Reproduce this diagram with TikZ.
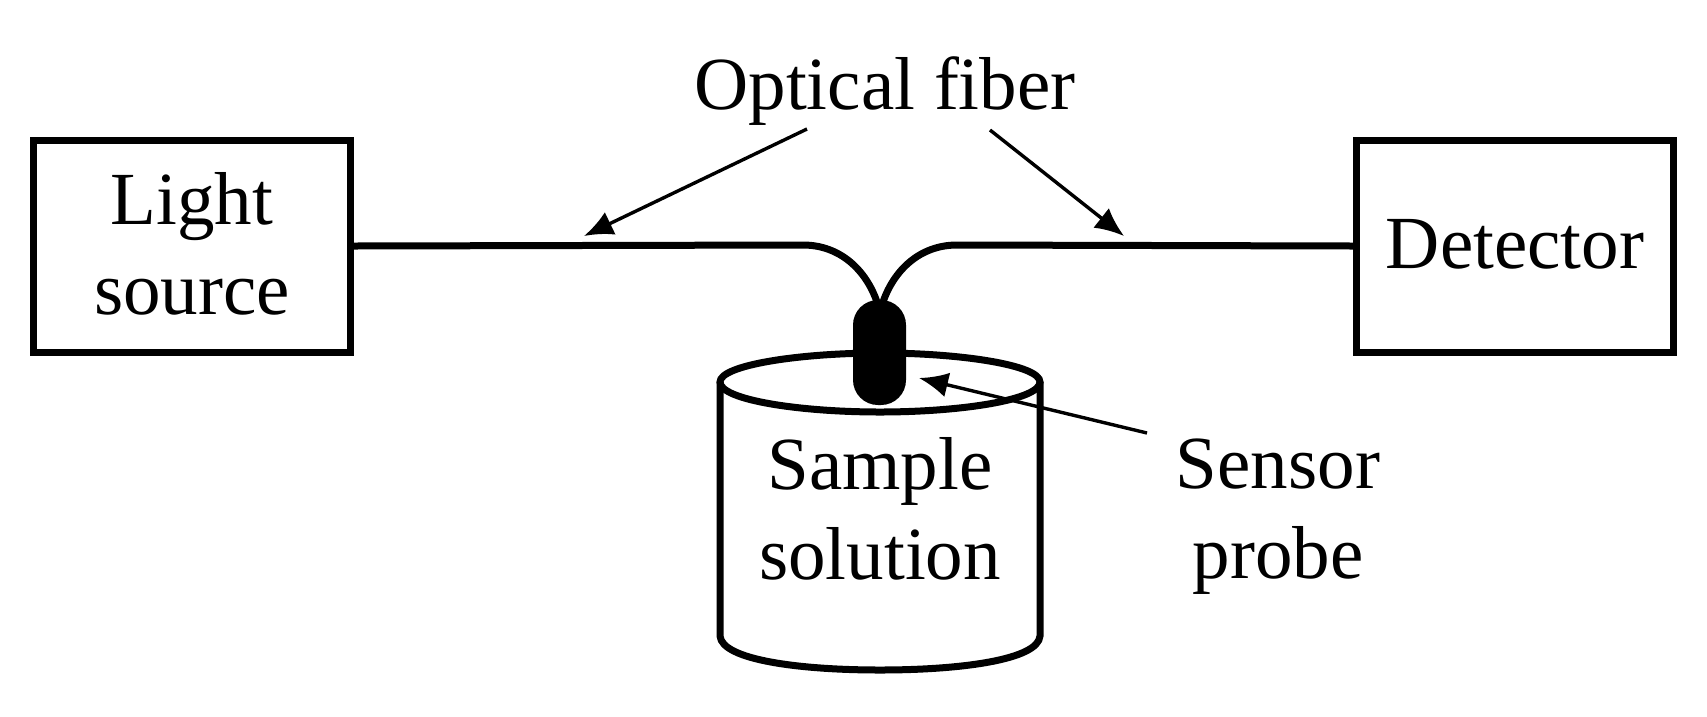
\documentclass[tikz,border=0pt]{standalone}
\usepackage{fontspec}
\setmainfont{Liberation Serif}
\usetikzlibrary{arrows.meta}
\tikzset{
 box/.style={draw,line width=7pt,minimum width=317pt,minimum height=212pt,inner sep=0pt},
 lbl/.style={font=\fontsize{75}{90}\selectfont,align=center,inner sep=0pt},
 fiber/.style={line width=7pt},
 pointer/.style={line width=3.4pt,-{Latex[length=29pt,width=25pt]}},
 can/.style={line width=7pt}
}
\begin{document}
\begin{tikzpicture}[x=1pt,y=-1pt]
\useasboundingbox (0,0) rectangle (1707,716);
\fill[white] (0,0) rectangle (1707,716);
\node[box] (ls) at (192,246) {};
\node[box] (det) at (1515,246) {};
\node[lbl] (lst) at (192,244) {Light\\source};
\node[lbl] (dett) at (1515,244) {Detector};
\node[lbl] (of) at (885,91) {Optical fiber};
\draw[can] (720,382) .. controls (720,365) and (800,353) .. (880,353) .. controls (960,353) and (1040,365) .. (1040,382) .. controls (1040,400) and (960,412) .. (880,412) .. controls (800,412) and (720,400) .. (720,382) -- cycle;
\draw[can] (720,382) -- (720,636) .. controls (722,660) and (800,670) .. (880,670) .. controls (960,670) and (1038,660) .. (1040,636) -- (1040,382);
\node[lbl] (sam) at (880,509) {Sample\\solution};
\node[lbl] (sen) at (1278,517) {Sensor\\probe};
\draw[fiber] (ls.east) -- (803,245) .. controls (840,245) and (866,270) .. (877,302);
\draw[fiber] (det.west) -- (957,245) .. controls (920,245) and (894,270) .. (883,302);
\fill[rounded corners=25pt] (853,300) rectangle (906,405);
\coordinate (a1) at (807,129); \coordinate (a2) at (584,236);
\coordinate (b1) at (990,130); \coordinate (b2) at (1124,236);
\coordinate (c1) at (1147,433); \coordinate (c2) at (919,378);
\draw[pointer] (a1) -- (a2);
\draw[pointer] (b1) -- (b2);
\draw[pointer] (c1) -- (c2);
\end{tikzpicture}
\end{document}
